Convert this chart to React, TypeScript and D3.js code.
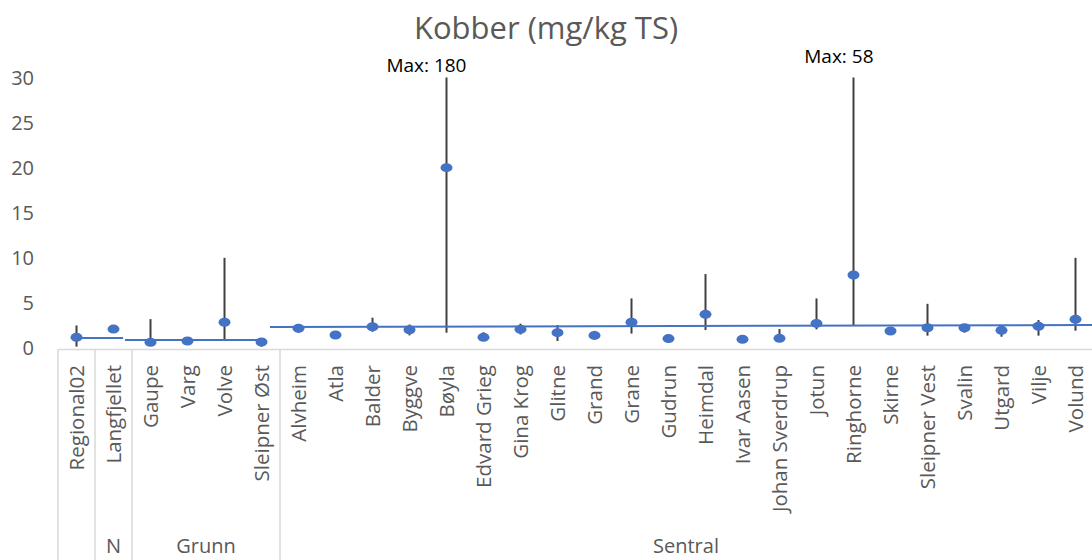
import React, { useEffect, useRef } from "react";
import * as d3 from "d3";

// fields (level 1) and their areas (level 2)
const categories = [
  "Regional02", "Langfjellet", "Gaupe", "Varg", "Volve", "Sleipner Øst",
  "Alvheim", "Atla", "Balder", "Byggve", "Bøyla", "Edvard Grieg", "Gina Krog",
  "Glitne", "Grand", "Grane", "Gudrun", "Heimdal", "Ivar Aasen", "Johan Sverdrup",
  "Jotun", "Ringhorne", "Skirne", "Sleipner Vest", "Svalin", "Utgard", "Vilje", "Volund",
];
const areas = [
  "", "N", "Grunn", "Grunn", "Grunn", "Grunn",
  "Sentral", "Sentral", "Sentral", "Sentral", "Sentral", "Sentral", "Sentral",
  "Sentral", "Sentral", "Sentral", "Sentral", "Sentral", "Sentral", "Sentral",
  "Sentral", "Sentral", "Sentral", "Sentral", "Sentral", "Sentral", "Sentral", "Sentral",
];
const meanValues = [
  1.18, 2.1, 0.63, 0.78, 2.85, 0.67,
  2.18, 1.44, 2.36, 2.03, 20, 1.18, 2.07,
  1.7, 1.4, 2.85, 1.04, 3.73, 0.96, 1.07,
  2.73, 8.1, 1.88, 2.25, 2.25, 1.96, 2.4, 3.18,
];
const minValues = [
  0.15, 2.1, 0.55, 0.78, 0.9, 0.15,
  1.7, 1.44, 1.8, 1.4, 1.7, 1.18, 1.5,
  0.78, 1.0, 1.6, 0.6, 2.0, 0.96, 0.7,
  2.07, 2.55, 1.44, 1.37, 1.7, 1.25, 1.37, 1.92,
];
const maxValues = [
  2.5, 2.1, 3.2, 0.78, 10, 0.67,
  2.3, 1.44, 3.36, 2.6, 180, 1.74, 2.7,
  2.55, 1.9, 5.5, 1.04, 8.2, 0.96, 2.1,
  5.5, 58, 1.88, 4.9, 2.4, 2.36, 3.1, 10,
];
// area average lines (start/end in category index units)
const areaLineStart = [0.04, 1.31, 5.23];
const areaLineEnd = [1.26, 4.99, 27.45];
const areaLineFrom = [1.1, 0.88, 2.33];
const areaLineTo = [1.1, 0.88, 2.55];

const yTicks = [0, 5, 10, 15, 20, 25, 30];
const yMax = 30;

const W = 1092;
const H = 560;
const margin = { top: 78, left: 58, bottom: 349 };
const textColor = "#595959";
const blue = "#4472C4";
const font = "'Open Sans', 'DejaVu Sans', sans-serif";

export default function App() {
  const svgRef = useRef<SVGSVGElement>(null);

  useEffect(() => {
    const svg = d3.select(svgRef.current);
    svg.selectAll("*").remove();

    const bw = 37;
    const xIdx = d3
      .scaleLinear()
      .domain([-0.5, categories.length - 0.5])
      .range([margin.left, margin.left + bw * categories.length]);
    const y = d3.scaleLinear().domain([0, yMax]).range([margin.bottom - 1, margin.top - 0.5]).clamp(true);

    // title
    svg
      .append("text")
      .attr("x", 546)
      .attr("y", 39)
      .attr("text-anchor", "middle")
      .style("font-family", font)
      .style("font-size", "31px")
      .style("fill", textColor)
      .text("Kobber (mg/kg TS)");

    // y tick labels
    svg
      .selectAll(".ytick")
      .data(yTicks)
      .enter()
      .append("text")
      .attr("x", 34)
      .attr("y", (d) => y(d))
      .attr("dy", "0.35em")
      .attr("text-anchor", "end")
      .style("font-family", font)
      .style("font-size", "20px")
      .style("fill", textColor)
      .text((d) => d);

    // category axis line
    svg
      .append("line")
      .attr("x1", margin.left)
      .attr("x2", W)
      .attr("y1", margin.bottom + 0.5)
      .attr("y2", margin.bottom + 0.5)
      .attr("stroke", "#d9d9d9")
      .attr("stroke-width", 1.5);

    // group extents
    const groups: { name: string; start: number; end: number }[] = [];
    areas.forEach((a, i) => {
      const last = groups[groups.length - 1];
      if (last && last.name === a && a !== "") last.end = i;
      else groups.push({ name: a, start: i, end: i });
    });

    svg
      .selectAll(".sep")
      .data(groups)
      .enter()
      .append("line")
      .attr("x1", (g) => xIdx(g.start - 0.5))
      .attr("x2", (g) => xIdx(g.start - 0.5))
      .attr("y1", margin.bottom)
      .attr("y2", H)
      .attr("stroke", "#d9d9d9")
      .attr("stroke-width", 1.5);

    // area labels
    svg
      .selectAll(".grp")
      .data(groups)
      .enter()
      .append("text")
      .attr("x", (g) => (xIdx(g.start - 0.5) + Math.min(xIdx(g.end + 0.5), W)) / 2)
      .attr("y", 553)
      .attr("text-anchor", "middle")
      .style("font-family", font)
      .style("font-size", "20px")
      .style("fill", textColor)
      .text((g) => g.name);

    // category labels
    svg
      .selectAll(".cat")
      .data(categories)
      .enter()
      .append("text")
      .attr("transform", (d, i) => `translate(${xIdx(i) + 7},${margin.bottom + 16}) rotate(-90)`)
      .attr("text-anchor", "end")
      .style("font-family", font)
      .style("font-size", "20.5px")
      .style("fill", textColor)
      .text((d) => d);

    // min-max whiskers
    svg
      .selectAll(".whisker")
      .data(categories)
      .enter()
      .append("line")
      .attr("x1", (d, i) => xIdx(i))
      .attr("x2", (d, i) => xIdx(i))
      .attr("y1", (d, i) => y(minValues[i]))
      .attr("y2", (d, i) => y(maxValues[i]))
      .attr("stroke", "#404040")
      .attr("stroke-width", 2);

    // area average lines
    svg
      .selectAll(".arealine")
      .data(areaLineStart)
      .enter()
      .append("line")
      .attr("x1", (d) => xIdx(d))
      .attr("x2", (d, i) => Math.min(xIdx(areaLineEnd[i]), W))
      .attr("y1", (d, i) => y(areaLineFrom[i]))
      .attr("y2", (d, i) => y(areaLineTo[i]))
      .attr("stroke", blue)
      .attr("stroke-width", 2);

    // mean markers
    svg
      .selectAll(".dot")
      .data(categories)
      .enter()
      .append("ellipse")
      .attr("cx", (d, i) => xIdx(i))
      .attr("cy", (d, i) => y(meanValues[i]))
      .attr("rx", 6)
      .attr("ry", 4.5)
      .attr("fill", blue);

    // labels for clipped maxima
    const clipped = categories.map((c, i) => i).filter((i) => maxValues[i] > yMax);
    svg
      .selectAll(".maxlabel")
      .data(clipped)
      .enter()
      .append("text")
      .attr("x", (i) => xIdx(i) + 20)
      .attr("y", (i, k) => y(yMax) - (k === 0 ? 6 : 15))
      .attr("text-anchor", "end")
      .style("font-family", font)
      .style("font-size", "19px")
      .style("fill", "#000")
      .text((i) => `Max: ${maxValues[i]}`);
  }, []);

  return (
    <svg
      ref={svgRef}
      width={W}
      height={H}
      style={{ position: "absolute", left: 0, top: 0, background: "#fff" }}
    ></svg>
  );
}
